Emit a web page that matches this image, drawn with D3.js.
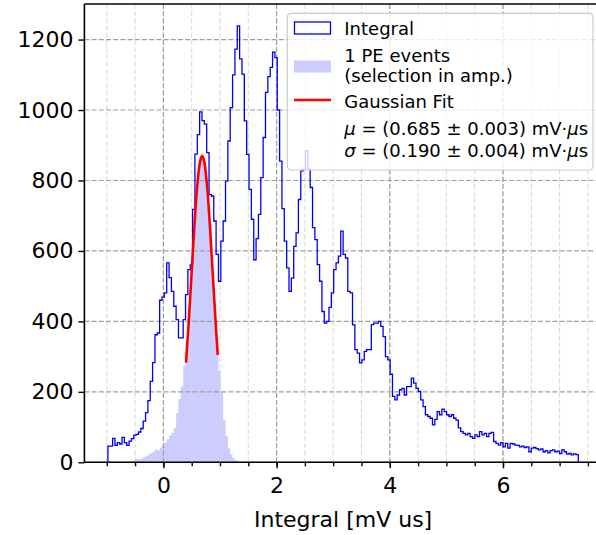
<!DOCTYPE html>
<html>
<head>
<meta charset="utf-8">
<script src="https://cdn.jsdelivr.net/npm/d3@7"></script>
<style>
body{margin:0;background:#fff;}
text{font-family:"DejaVu Sans",sans-serif;fill:#000;}
</style>
</head>
<body>
<div id="chart"></div>
<script>
// histogram range (mV us) and counts per bin
var binLow = -0.98, binHigh = 7.33;
var integralCounts = [
  46, 46, 68, 48, 56, 52, 71, 56, 48, 60,
  67, 77, 79, 86, 96, 117, 141, 175, 230, 283,
  362, 367, 460, 469, 481, 566, 524, 485, 443, 405,
  353, 353, 405, 476, 547, 560, 718, 875, 930, 995,
  970, 960, 879, 760, 756, 685, 590, 514, 628, 685,
  798, 912, 1007, 1100, 1173, 1239, 1145, 1102, 969, 874,
  775, 690, 575, 635, 704, 808, 922, 1050, 1095, 1121,
  1164, 1149, 1000, 855, 720, 628, 552, 485, 523, 613,
  651, 746, 827, 832, 885, 832, 780, 666, 632, 561,
  514, 428, 395, 400, 440, 481, 547, 566, 585, 656,
  590, 580, 485, 481, 390, 320, 310, 282, 291, 315,
  320, 320, 391, 395, 395, 400, 386, 357, 300, 291,
  250, 187, 177, 191, 206, 210, 191, 215, 215, 239,
  225, 210, 201, 177, 158, 135, 130, 125, 106, 122,
  144, 135, 151, 144, 135, 130, 135, 125, 120, 98,
  87, 82, 78, 82, 73, 68, 78, 73, 87, 78,
  82, 73, 82, 85, 59, 54, 49, 56, 44, 54,
  40, 54, 52, 49, 48, 44, 46, 42, 44, 30,
  40, 42, 39, 35, 38, 30, 33, 27, 33, 35,
  30, 32, 25, 35, 30, 23, 25, 21, 24, 22
];
// 1 PE selection, same bins, starting at bin 11
var peFirstBin = 11;
var peCounts = [
  8, 10, 9, 12, 14, 18, 22, 26, 30, 36,
  34, 42, 50, 56, 66, 76, 84, 97, 140, 180,
  215, 275, 340, 430, 530, 640, 740, 820, 865, 868,
  827, 755, 655, 544, 430, 320, 260, 200, 120, 75,
  40, 22, 12, 6
];
// gaussian fit curve
var fitX = [0.40, 0.45, 0.50, 0.55, 0.60, 0.65, 0.685, 0.72, 0.77, 0.82, 0.87, 0.92, 0.96];
var fitY = [283, 405, 541, 676, 787, 855, 870, 855, 787, 676, 541, 405, 305];

var xMajorTicks = [0, 2, 4, 6];
var xMinorTicks = [-1, -0.5, 0, 0.5, 1, 1.5, 2, 2.5, 3, 3.5, 4, 4.5, 5, 5.5, 6, 6.5, 7, 7.5];
var yTicks = [0, 200, 400, 600, 800, 1000, 1200];
var xLabel = "Integral [mV us]";
var legendLabels = ["Integral", "1 PE events", "(selection in amp.)", "Gaussian Fit"];
var fitParams = [
  {sym: "μ", txt: " = (0.685 ± 0.003) mV·"},
  {sym: "σ", txt: " = (0.190 ± 0.004) mV·"}
];

width = 596;
height = 535;
left = 84.4;
top0 = 4;
bottom = 462.3;
nb = integralCounts.length;
bw = (binHigh - binLow) / nb;
edges = d3.range(nb + 1).map(function(i){ return binLow + i * bw; });

xPad = 0.05 * (binHigh - binLow);
x = d3.scaleLinear().domain([binLow - xPad, binHigh + xPad]).range([left, left + 517.4]);
y = d3.scaleLinear().domain([0, d3.max(integralCounts) * 1.05]).range([bottom, top0]);

svg = d3.select("#chart").append("svg").attr("width", width).attr("height", height);
svg.append("defs").append("clipPath").attr("id", "clip")
  .append("rect").attr("x", left).attr("y", top0).attr("width", width).attr("height", bottom - top0);

// step path helper
stepPath = function(counts, first){
  var s = "M" + x(edges[first]) + "," + y(0);
  for (var i = 0; i < counts.length; i++) {
    s += "V" + y(counts[i]) + "H" + x(edges[first + i + 1]);
  }
  s += "V" + y(0);
  return s;
};

plot = svg.append("g").attr("clip-path", "url(#clip)");

// filled 1 PE histogram
plot.append("path").attr("d", stepPath(peCounts, peFirstBin) + "Z")
  .attr("fill", "#ccccff").attr("stroke", "none");

// grid
grid = plot.append("g");
grid.selectAll(".gmin").data(xMinorTicks).enter().append("line")
  .attr("x1", function(d){return x(d);}).attr("x2", function(d){return x(d);})
  .attr("y1", top0).attr("y2", bottom)
  .attr("stroke", "#d8d8d8").attr("stroke-width", 1).attr("stroke-dasharray", "5,2.2");
grid.selectAll(".gx").data(xMajorTicks).enter().append("line")
  .attr("x1", function(d){return x(d);}).attr("x2", function(d){return x(d);})
  .attr("y1", top0).attr("y2", bottom)
  .attr("stroke", "#9e9e9e").attr("stroke-width", 1.2).attr("stroke-dasharray", "5,2.2");
grid.selectAll(".gy").data(yTicks).enter().append("line")
  .attr("x1", left).attr("x2", width)
  .attr("y1", function(d){return y(d);}).attr("y2", function(d){return y(d);})
  .attr("stroke", "#9e9e9e").attr("stroke-width", 1.2).attr("stroke-dasharray", "5,2.2");

// integral step histogram
plot.append("path").attr("d", stepPath(integralCounts, 0))
  .attr("fill", "none").attr("stroke", "#0000f0").attr("stroke-width", 1.3);

// gaussian fit
fitPts = fitX.map(function(d, i){ return [d, fitY[i]]; });
plot.append("path").datum(fitPts)
  .attr("d", d3.line().x(function(d){return x(d[0]);}).y(function(d){return y(d[1]);}).curve(d3.curveCatmullRom))
  .attr("fill", "none").attr("stroke", "#ff0000").attr("stroke-width", 2.6);

// axes
yAxis = svg.append("g").attr("transform", "translate(" + left + ",0)")
  .call(d3.axisLeft(y).tickValues(yTicks).tickSize(6).tickPadding(5).tickFormat(d3.format("d")));
xAxisMinor = svg.append("g").attr("transform", "translate(0," + bottom + ")")
  .call(d3.axisBottom(x).tickValues(xMinorTicks).tickSize(4).tickFormat(""));
xAxis = svg.append("g").attr("transform", "translate(0," + bottom + ")")
  .call(d3.axisBottom(x).tickValues(xMajorTicks).tickSize(6).tickPadding(9).tickFormat(d3.format("d")));
[yAxis, xAxis, xAxisMinor].forEach(function(a){
  a.select(".domain").remove();
  a.selectAll("line").attr("stroke", "#000").attr("stroke-width", 1.4);
  a.selectAll("text").style("font-size", "22px").style("font-family", "DejaVu Sans");
});

// spines
svg.append("line").attr("x1", left).attr("x2", left).attr("y1", top0).attr("y2", bottom)
  .attr("stroke", "#000").attr("stroke-width", 1.6);
svg.append("line").attr("x1", left).attr("x2", width).attr("y1", bottom).attr("y2", bottom)
  .attr("stroke", "#000").attr("stroke-width", 1.6);
svg.append("line").attr("x1", left).attr("x2", width).attr("y1", top0).attr("y2", top0)
  .attr("stroke", "#000").attr("stroke-width", 1.6);

svg.append("text").attr("x", (left + left + 517.4) / 2).attr("y", 527)
  .attr("text-anchor", "middle").style("font-size", "22px").text(xLabel);

// legend
lg = svg.append("g");
lg.append("rect").attr("x", 287.3).attr("y", 13.3).attr("width", 305.7).attr("height", 156.7)
  .attr("rx", 4).attr("fill", "#fff").attr("fill-opacity", 0.8)
  .attr("stroke", "#cccccc").attr("stroke-width", 1.2);
lg.append("rect").attr("x", 294.5).attr("y", 22).attr("width", 36).attr("height", 12)
  .attr("fill", "none").attr("stroke", "#0000f0").attr("stroke-width", 1.3);
lg.append("rect").attr("x", 294).attr("y", 60.5).attr("width", 37).attr("height", 12)
  .attr("fill", "#ccccff");
lg.append("line").attr("x1", 294).attr("x2", 331).attr("y1", 100).attr("y2", 100)
  .attr("stroke", "#ff0000").attr("stroke-width", 2.6);
lgBase = [35, 62.3, 82, 108.3];
lg.selectAll(".lt").data(legendLabels).enter().append("text")
  .attr("x", 344.3).attr("y", function(d, i){ return lgBase[i]; })
  .style("font-size", "18px").text(function(d){ return d; });
pBase = [135, 156.7];
fitParams.forEach(function(p, i){
  var t = lg.append("text").attr("x", 344.3).attr("y", pBase[i]).style("font-size", "18px");
  t.append("tspan").style("font-style", "italic").text(p.sym);
  t.append("tspan").text(p.txt);
  t.append("tspan").style("font-style", "italic").text("μ");
  t.append("tspan").text("s");
});
</script>
</body>
</html>
